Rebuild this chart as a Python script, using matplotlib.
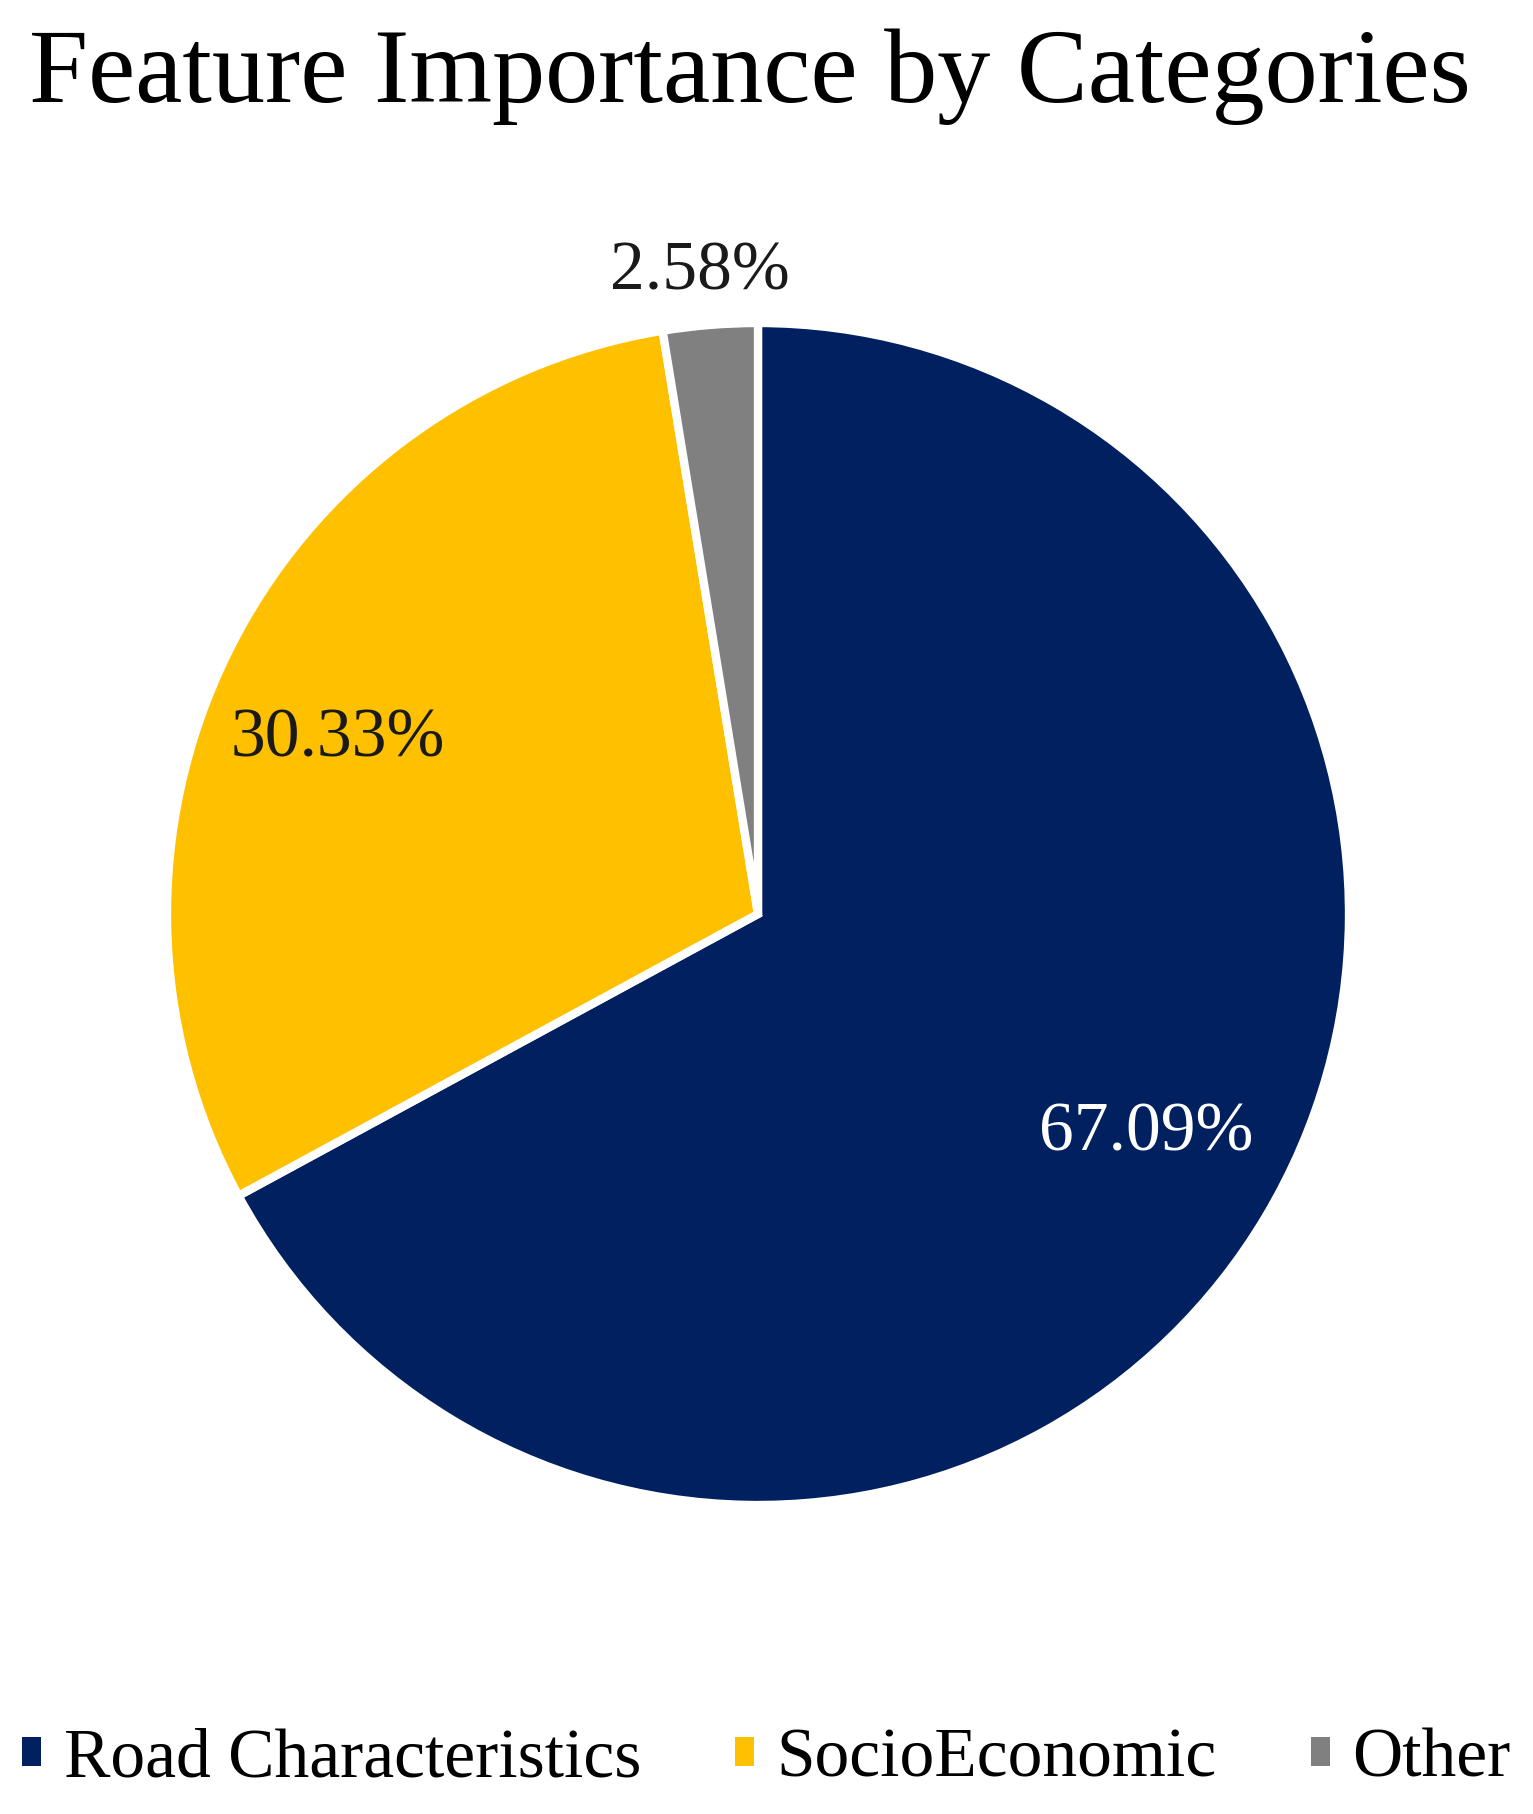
import numpy as np
import matplotlib
matplotlib.use("Agg")
from matplotlib import pyplot as plt
from matplotlib.patches import Patch

categories = ["Road Characteristics", "SocioEconomic", "Other"]
shares = [67.09, 30.33, 2.58]
colors = ["#002060", "#FFC000", "#808080"]
label_colors = ["white", "#1a1a1a", "#1a1a1a"]
label_radius = [0.755, 0.77, 1.09]
label_shift = [1.2, 3.6, 0.5]  # degrees, nudges label off the wedge middle

plt.rcParams["font.family"] = ["Liberation Serif", "DejaVu Serif"]

W, H = 1533, 1814
fig = plt.figure(figsize=(W / 100, H / 100), dpi=100)

cx, cy, r = 758, 914, 591
ax = fig.add_axes([(cx - r) / W, (H - cy - r) / H, 2 * r / W, 2 * r / H])
wedges, _ = ax.pie(shares, colors=colors, startangle=90, counterclock=False,
                   wedgeprops=dict(edgecolor="white", linewidth=6))
ax.set_xlim(-1, 1)
ax.set_ylim(-1, 1)
ax.set_aspect("equal")
ax.axis("off")

for w, val, c, d, s in zip(wedges, shares, label_colors, label_radius, label_shift):
    ang = np.deg2rad((w.theta1 + w.theta2) / 2 + s)
    ax.text(d * np.cos(ang), d * np.sin(ang), f"{val:.2f}%", color=c,
            fontsize=50, ha="center", va="center")

fig.text(0.019, 1 - 102 / H, "Feature Importance by Categories",
         fontsize=76.5, ha="left", va="baseline")

handles = [Patch(facecolor=c, edgecolor="none") for c in colors]
fig.legend(handles, categories, loc="center", bbox_to_anchor=(0.5, 1 - 1760 / H),
           ncol=3, frameon=False, fontsize=50, handlelength=0.27, handleheight=0.27,
           handletextpad=0.33, columnspacing=1.35)

fig.savefig("out.png", dpi=100, facecolor="white")
